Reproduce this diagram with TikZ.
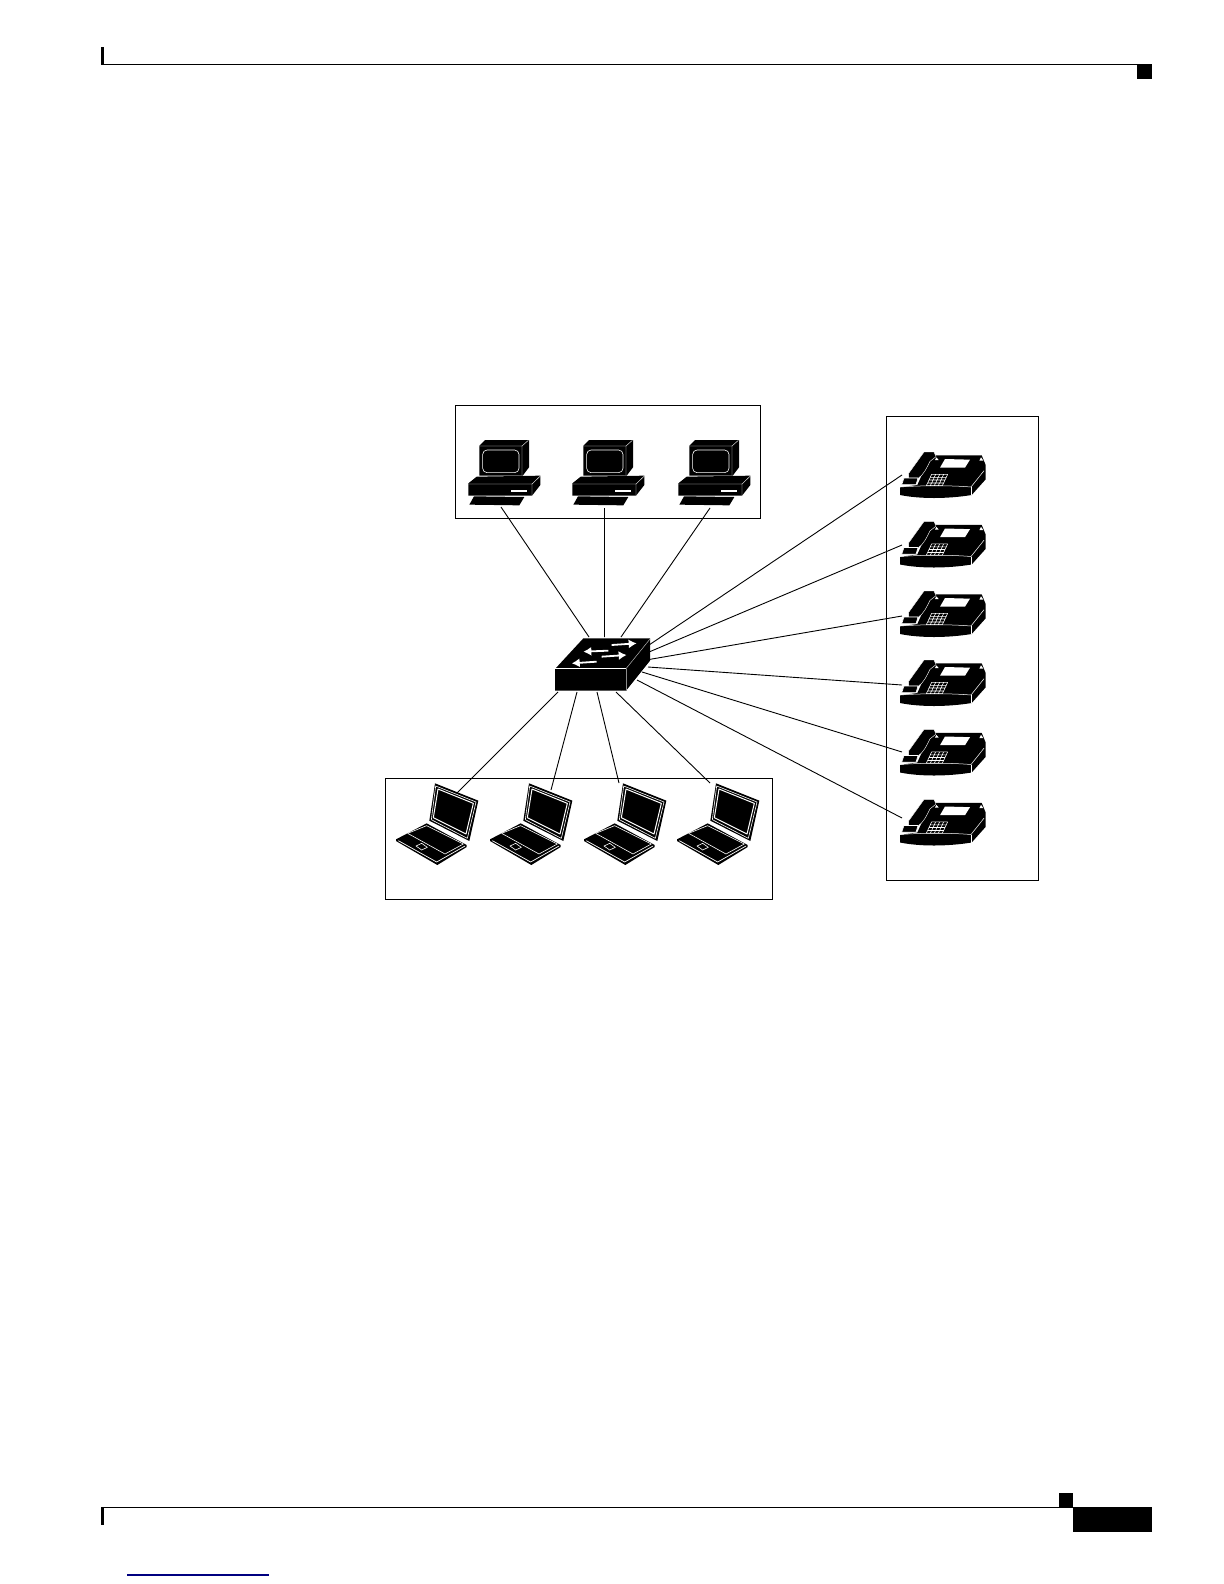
\documentclass[tikz,border=0pt]{standalone}
\usetikzlibrary{arrows.meta}
\tikzset{
  frame/.style={draw=black,line width=0.55pt},
  link/.style={draw=black,line width=0.45pt},
  pics/computer/.style={code={
    \begin{scope}[x=0.16667pt,y=-0.16667pt,line join=round]
      \fill[black] (58,47)--(75,30)--(207,30)--(207,112)--(188,137)--(58,137)--cycle;
      \draw[white,line width=0.2pt] (58,48)--(186,48)--(205,31) (186,48)--(186,136);
      \draw[white,line width=0.3pt,rounded corners=2.2pt] (68,60) rectangle (177,128);
      \fill[black] (25,160)--(50,140)--(241,137)--(241,165)--(216,197)--(25,197)--cycle;
      \draw[white,line width=0.2pt] (25,162)--(216,162)--(241,138) (216,162)--(216,197);
      \draw[white,line width=0.7pt] (153,183)--(200,183);
      \fill[black] (42,199)--(193,201)--(178,226)--(28,224)--cycle;
    \end{scope}}},
  pics/phone/.style={code={
    \begin{scope}[x=0.16667pt,y=-0.16667pt,line join=round]
      \fill[black] (82,135)--(122,46)--(275,46)--(287,75)--(287,118)--(245,165)
        .. controls (170,177) and (90,177) .. (30,165)--(30,142)--cycle;
      \draw[white,line width=0.25pt] (30,141) .. controls (100,136) and (180,136) .. (243,141)--(282,92);
      \draw[white,line width=0.25pt] (243,141)--(243,165);
      \fill[black,draw=white,line width=0.2pt] (56,100)--(102,36)--(132,36)--(138,50)--(120,64)
        .. controls (110,84) and (102,102) .. (86,114)--(56,114)--cycle;
      \fill[black,draw=white,line width=0.3pt] (42,114)--(84,114)--(78,134)--(35,134)--cycle;
      \fill[white] (165,57)--(240,59)--(225,83)--(150,83)--cycle;
      \fill[white] (139,52)--(146,60)--(135,60)--cycle (273,52)--(280,62)--(268,62)--cycle;
      \draw[white,line width=0.28pt]
        (125,103)--(173,103) (121,112)--(169,112) (117,120)--(165,120) (113,129)--(161,129) (109,137)--(157,137)
        (125,103)--(109,137) (137,103)--(121,137) (149,103)--(133,137) (161,103)--(145,137) (173,103)--(157,137);
    \end{scope}}},
  pics/laptop/.style={code={
    \begin{scope}[x=0.16667pt,y=-0.16667pt,line join=round]
      \fill[black] (150,40)--(280,92)--(253,213)--(133,152)--cycle;
      \draw[white,line width=0.3pt] (152,48)--(273,96)--(247,205)--(139,149)--cycle;
      \draw[white,line width=0.5pt] (159,57)--(265,100)--(243,192)--(145,143)--cycle;
      \fill[black] (33,208)--(125,160)--(245,225)--(245,231)--(157,285)--(33,213)--cycle;
      \draw[white,line width=0.3pt] (68,190)--(125,167)--(235,222);
      \draw[white,line width=0.3pt] (68,190)--(180,252)--(235,222);
      \draw[white,line width=0.35pt] (40,212)--(155,276)--(240,228);
      \draw[white,line width=0.3pt] (93,228)--(110,220)--(127,232)--(110,240)--cycle;
    \end{scope}}},
  swarrow/.style={draw=white,line width=0.9pt,-{Latex[length=4pt,width=4.5pt]}}
}
\begin{document}
\begin{tikzpicture}[x=0.5pt,y=-0.5pt]
\useasboundingbox (0,0) rectangle (1224,1584);
% page furniture
\fill[black] (101,47) rectangle (104,64);
\draw[black,line width=0.6pt] (101,64.5)--(1137,64.5);
\fill[black] (1137,64) rectangle (1152,79);
\draw[black,line width=0.6pt] (101,1507.5)--(1059,1507.5);
\fill[black] (101,1507) rectangle (104,1525);
\fill[black] (1059,1493) rectangle (1073,1507.5);
\fill[black] (1073,1507) rectangle (1152,1532);
\draw[color={rgb,255:red,0;green,0;blue,128},line width=0.6pt] (127,1575)--(269,1575);
% group frames
\node[frame,minimum width=152.5pt,minimum height=56.5pt,inner sep=0pt,anchor=north west] (topbox) at (455,405) {};
\node[frame,minimum width=76pt,minimum height=232pt,inner sep=0pt,anchor=north west] (rightbox) at (886,416) {};
\node[frame,minimum width=193.5pt,minimum height=60.5pt,inner sep=0pt,anchor=north west] (botbox) at (384.5,778) {};
% ports on devices
\coordinate (pc1) at (501,507); \coordinate (pc2) at (604.5,508); \coordinate (pc3) at (710,508);
\coordinate (lp1) at (457,793); \coordinate (lp2) at (551,790); \coordinate (lp3) at (619,783); \coordinate (lp4) at (710,783);
\coordinate (ph1) at (902,475); \coordinate (ph2) at (902,545); \coordinate (ph3) at (902,616);
\coordinate (ph4) at (902,685); \coordinate (ph5) at (902,752); \coordinate (ph6) at (902,818);
% ports on switch
\coordinate (st1) at (589,637); \coordinate (st2) at (604.5,637); \coordinate (st3) at (621,637);
\coordinate (sb1) at (558,692); \coordinate (sb2) at (577,692); \coordinate (sb3) at (597,692); \coordinate (sb4) at (616,692);
\coordinate (sr1) at (649,645); \coordinate (sr2) at (649,652); \coordinate (sr3) at (649,659.5);
\coordinate (sr4) at (648,667); \coordinate (sr5) at (642,672); \coordinate (sr6) at (637,680);
% connectors
\draw[link] (pc1)--(st1) (pc2)--(st2) (pc3)--(st3);
\draw[link] (lp1)--(sb1) (lp2)--(sb2) (lp3)--(sb3) (lp4)--(sb4);
\draw[link] (ph1)--(sr1) (ph2)--(sr2) (ph3)--(sr3) (ph4)--(sr4) (ph5)--(sr5) (ph6)--(sr6);
% devices
\pic at (460,430) {computer}; \pic at (564,430) {computer}; \pic at (670,430) {computer};
\foreach \dx in {0,94,188,281} {\pic at (385+\dx,770) {laptop};}
\foreach \dy in {0,69.5,139,208,277.5,347.5} {\pic at (890,440+\dy) {phone};}
% switch
\begin{scope}[shift={(540,620)},x=0.16667pt,y=-0.16667pt,line join=round]
  \fill[black] (45,147)--(130,55)--(330,55)--(330,122)--(258,212)--(45,212)--cycle;
  \draw[white,line width=0.35pt] (45,146)--(258,146);
  \draw[black!45,line width=0.4pt] (258,146)--(258,212);
  \draw[white!70!black,line width=0.25pt] (258,146)--(330,57);
  \draw[swarrow] (215,75)--(290,70);
  \draw[swarrow] (205,92)--(130,95);
  \draw[swarrow] (185,110)--(260,105);
  \draw[swarrow] (170,125)--(95,130);
\end{scope}
\end{tikzpicture}
\end{document}
